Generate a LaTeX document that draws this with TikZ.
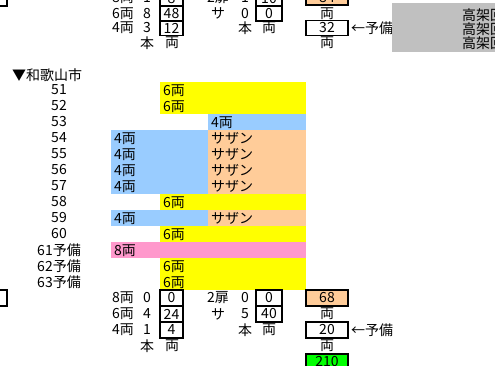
\documentclass[tikz,border=0pt]{standalone}
\usepackage{fontspec}
\setmainfont{Noto Sans CJK JP}
\definecolor{ylw}{HTML}{FFFF00}
\definecolor{blu}{HTML}{99CCFF}
\definecolor{pch}{HTML}{FFCC99}
\definecolor{pnk}{HTML}{FF99CC}
\definecolor{grn}{HTML}{00FF00}
\definecolor{gry}{HTML}{C0C0C0}
\tikzset{
  txt/.style={inner sep=0, font=\fontsize{14}{14}\selectfont},
  cbar/.style={anchor=north west, inner xsep=3pt, inner ysep=0, minimum height=16,
    align=left, font=\fontsize{14}{14}\selectfont},
  cbox/.style={draw, line width=1.5, minimum height=16, inner sep=0, font=\fontsize{14}{14}\selectfont},
  sbox/.style={cbox, minimum width=23},
  mbox/.style={cbox, minimum width=26},
  wbox/.style={cbox, minimum width=42},
}
\newcommand\trainbar[6]{%
  \pgfmathsetmacro\bw{#3-#2-6}%
  \node (#1) [cbar, fill=#5, text width=\bw pt] at (#2,#4) {#6};}
\begin{document}
\begin{tikzpicture}[x=1pt,y=-1pt]
\useasboundingbox (0,0) rectangle (495,366);
\clip (0,0) rectangle (495,366);
\fill[white] (0,0) rectangle (495,366);

% ---------- top section (cut off) ----------
\node (tlbox) [cbox, minimum width=27, minimum height=15] at (-6.5,-1.5) {};
\node (t8r) [txt] at (123,-2.5) {8両};
\node (t8n) [txt] at (147,-2.5) {1};
\node (t8b) [sbox, minimum height=15] at (171.5,-1.5) {8};
\node (t6r) [txt] at (123,13.5) {6両};
\node (t6n) [txt] at (147,13.5) {8};
\node (t6b) [sbox, minimum height=15] at (171.5,13.5) {48};
\node (t4r) [txt] at (123,28) {4両};
\node (t4n) [txt] at (147,28) {3};
\node (t4b) [sbox, minimum height=15] at (171.5,28) {12};
\node (thon) [txt] at (147,43) {本};
\node (tryo) [txt] at (172,43) {両};
\node (t2r) [txt] at (218,-2.5) {2扉};
\node (t2n) [txt] at (245,-2.5) {1};
\node (t2b) [mbox, minimum height=15] at (269,-1.5) {10};
\node (tsr) [txt] at (218,13.5) {サ};
\node (tsn) [txt] at (245,13.5) {0};
\node (tsb) [mbox, minimum height=15] at (269,13.5) {0};
\node (thon2) [txt] at (245,28) {本};
\node (tryo2) [txt] at (269,28) {両};
\node (ttot) [wbox, fill=pch, minimum height=15] at (327,-2.5) {84};
\node (tryo3) [txt] at (327,13.5) {両};
\node (tspare) [wbox, minimum height=15] at (327,28) {32};
\node (tyobi) [txt, anchor=west] at (351,28) {←予備};
\node (tryo4) [txt] at (327,43) {両};
\node (gray) [fill=gry, anchor=north west, minimum width=103, minimum height=49, inner sep=0] at (392,3) {};
\node (k1) [txt, anchor=west] at (462,15) {高架回};
\node (k2) [txt, anchor=west] at (462,29) {高架回};
\node (k3) [txt, anchor=west] at (462,43) {高架回};

% ---------- station ----------
\node (sta) [txt, anchor=west] at (12,75) {▼和歌山市};

\node (l51) [txt] at (59,90) {51};
\node (l52) [txt] at (59,106) {52};
\node (l53) [txt] at (59,122) {53};
\node (l54) [txt] at (59,138) {54};
\node (l55) [txt] at (59,154) {55};
\node (l56) [txt] at (59,170) {56};
\node (l57) [txt] at (59,186) {57};
\node (l58) [txt] at (59,202) {58};
\node (l59) [txt] at (59,218) {59};
\node (l60) [txt] at (59,234) {60};
\node (l61) [txt] at (59,250) {61予備};
\node (l62) [txt] at (59,266) {62予備};
\node (l63) [txt] at (59,282) {63予備};

\trainbar{b51}{160}{306}{82}{ylw}{6両}
\trainbar{b52}{160}{306}{98}{ylw}{6両}
\trainbar{b53}{208}{306}{114}{blu}{4両}
\trainbar{b54a}{111}{208}{130}{blu}{4両}
\trainbar{b54b}{208}{306}{130}{pch}{サザン}
\trainbar{b55a}{111}{208}{146}{blu}{4両}
\trainbar{b55b}{208}{306}{146}{pch}{サザン}
\trainbar{b56a}{111}{208}{162}{blu}{4両}
\trainbar{b56b}{208}{306}{162}{pch}{サザン}
\trainbar{b57a}{111}{208}{178}{blu}{4両}
\trainbar{b57b}{208}{306}{178}{pch}{サザン}
\trainbar{b58}{160}{306}{194}{ylw}{6両}
\trainbar{b59a}{111}{208}{210}{blu}{4両}
\trainbar{b59b}{208}{306}{210}{pch}{サザン}
\trainbar{b60}{160}{306}{226}{ylw}{6両}
\trainbar{b61}{111}{306}{242}{pnk}{8両}
\trainbar{b62}{160}{306}{258}{ylw}{6両}
\trainbar{b63}{160}{306}{274}{ylw}{6両}

% ---------- bottom section ----------
\node (blbox) [cbox, minimum width=27] at (-6.5,298) {};
\node (b8r) [txt] at (123,298) {8両};
\node (b8n) [txt] at (147,298) {0};
\node (b8b) [sbox] at (171.5,298) {0};
\node (b6r) [txt] at (123,314) {6両};
\node (b6n) [txt] at (147,314) {4};
\node (b6b) [sbox] at (171.5,314) {24};
\node (b4r) [txt] at (123,330) {4両};
\node (b4n) [txt] at (147,330) {1};
\node (b4b) [sbox] at (171.5,330) {4};
\node (bhon) [txt] at (147,346) {本};
\node (bryo) [txt] at (172,346) {両};
\node (b2r) [txt] at (218,298) {2扉};
\node (b2n) [txt] at (245,298) {0};
\node (b2b) [mbox] at (269,298) {0};
\node (bsr) [txt] at (218,314) {サ};
\node (bsn) [txt] at (245,314) {5};
\node (bsb) [mbox] at (269,314) {40};
\node (bhon2) [txt] at (245,330) {本};
\node (bryo2) [txt] at (269,330) {両};
\node (btot) [wbox, fill=pch] at (327,298) {68};
\node (bryo3) [txt] at (327,314) {両};
\node (bspare) [wbox] at (327,330) {20};
\node (byobi) [txt, anchor=west] at (351,330) {←予備};
\node (bryo4) [txt] at (327,346) {両};
\node (ball) [wbox, fill=grn] at (327,362) {210};
\end{tikzpicture}
\end{document}
